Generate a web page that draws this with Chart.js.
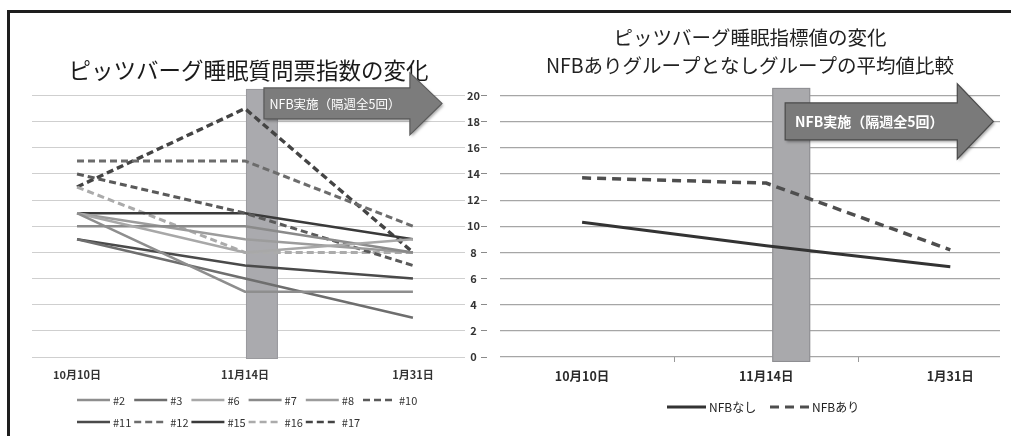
<!DOCTYPE html>
<html>
<head>
<meta charset="utf-8">
<script src="https://cdn.jsdelivr.net/npm/chart.js@4/dist/chart.umd.min.js"></script>
<style>
  html, body { margin: 0; padding: 0; background: #fff; width: 1011px; height: 436px; overflow: hidden; }
  #wrapL { position: absolute; left: 0; top: 0; width: 500px; height: 436px; }
  #wrapR { position: absolute; left: 490px; top: 0; width: 521px; height: 436px; }
  #frame { position: absolute; left: 7px; top: 10px; width: 1010px; height: 440px;
           border-top: 3px solid #1e1e1e; border-left: 3px solid #1e1e1e; pointer-events: none; }
</style>
</head>
<body>
<div id="wrapL"><canvas id="cL" width="500" height="436"></canvas></div>
<div id="wrapR"><canvas id="cR" width="521" height="436"></canvas></div>
<div id="frame"></div>
<script>
// ---------- data ----------
const categories = ['10月10日', '11月14日', '1月31日'];
const yTickValues = [0, 2, 4, 6, 8, 10, 12, 14, 16, 18, 20];
const subjectLabels = ['#2', '#3', '#6', '#7', '#8', '#10', '#11', '#12', '#15', '#16', '#17'];
const s02 = [11, 5, 5];
const s03 = [9, 6, 3];
const s06 = [11, 8, 9];
const s07 = [10, 10, 8];
const s08 = [11, 9, 8];
const s10 = [14, 11, 7];
const s11 = [9, 7, 6];
const s12 = [15, 15, 10];
const s15 = [11, 11, 9];
const s16 = [13, 8, 8];
const s17 = [13, 19, 8];
const groupLabels = ['NFBなし', 'NFBあり'];
const noNfbMeans = [10.3, 8.5, 6.9];
const nfbMeans = [13.7, 13.3, 8.2];
const leftTitle = 'ピッツバーグ睡眠質問票指数の変化';
const rightTitle = ['ピッツバーグ睡眠指標値の変化', 'NFBありグループとなしグループの平均値比較'];
const arrowText = 'NFB実施（隔週全5回）';

// ---------- styles ----------
const FONT = "'Noto Sans CJK JP', 'Noto Sans', sans-serif";
Chart.defaults.font.family = FONT;
Chart.defaults.color = '#333';

const subjectSeries = [s02, s03, s06, s07, s08, s10, s11, s12, s15, s16, s17];
const subjectColors = ['#8e8e8e', '#6e6e6e', '#a8a8a8', '#8a8a8a', '#9c9c9c', '#5a5a5a',
                       '#4a4a4a', '#6c6c6c', '#3a3a3a', '#ababab', '#444444'];
const subjectDashed = [false, false, false, false, false, true, false, true, false, true, true];

const toPoints = arr => arr.map((v, i) => ({ x: i, y: v }));

// ---------- plugins ----------
const nfbMarker = {
  id: 'nfbMarker',
  beforeDatasetsDraw(chart, args, o) {
    const { ctx, scales: { x, y } } = chart;
    const x0 = x.getPixelForValue(o.bar[0]), x1 = x.getPixelForValue(o.bar[1]);
    const yt = y.getPixelForValue(o.bar[2]), yb = y.getPixelForValue(o.bar[3]);
    ctx.save();
    ctx.fillStyle = o.barColor;
    ctx.fillRect(x0, yt, x1 - x0, yb - yt);
    ctx.strokeStyle = o.barBorder;
    ctx.lineWidth = 1;
    ctx.strokeRect(x0 + 0.5, yt + 0.5, x1 - x0 - 1, yb - yt - 1);
    ctx.restore();
  },
  afterDatasetsDraw(chart, args, o) {
    const { ctx, scales: { x, y } } = chart;
    const a = o.arrow;
    const X = v => x.getPixelForValue(v), Y = v => y.getPixelForValue(v);
    const bx = X(a.bodyStart), hx = X(a.headStart), tx = X(a.tip);
    const bt = Y(a.bodyTop), bb = Y(a.bodyBottom), ht = Y(a.headTop), hb = Y(a.headBottom);
    const ty = (bt + bb) / 2;
    ctx.save();
    ctx.shadowColor = 'rgba(0,0,0,0.35)';
    ctx.shadowBlur = 3; ctx.shadowOffsetX = 1.5; ctx.shadowOffsetY = 2;
    ctx.beginPath();
    ctx.moveTo(bx, bt); ctx.lineTo(hx, bt); ctx.lineTo(hx, ht); ctx.lineTo(tx, ty);
    ctx.lineTo(hx, hb); ctx.lineTo(hx, bb); ctx.lineTo(bx, bb); ctx.closePath();
    ctx.fillStyle = o.arrowColor; ctx.fill();
    ctx.shadowColor = 'rgba(0,0,0,0)';
    ctx.lineWidth = 1.2; ctx.strokeStyle = o.arrowBorder; ctx.stroke();
    ctx.fillStyle = '#fff';
    ctx.font = o.textFont;
    ctx.textAlign = 'center'; ctx.textBaseline = 'middle';
    ctx.fillText(o.text, X(a.textX), ty + 0.5);
    ctx.restore();
  }
};

const gridLegend = {
  id: 'gridLegend',
  afterDraw(chart, args, o) {
    const { ctx } = chart;
    ctx.save();
    chart.data.datasets.forEach((ds, i) => {
      const col = i % o.columns, row = Math.floor(i / o.columns);
      const lx = o.x + col * o.colWidth, ly = o.y + row * o.rowHeight;
      ctx.beginPath();
      ctx.strokeStyle = ds.borderColor;
      ctx.lineWidth = o.lineWidth;
      ctx.setLineDash(ds.borderDash || []);
      ctx.moveTo(lx, ly); ctx.lineTo(lx + o.lineLength, ly);
      ctx.stroke();
      ctx.setLineDash([]);
      ctx.fillStyle = o.color;
      ctx.font = o.font;
      ctx.textAlign = 'left'; ctx.textBaseline = 'middle';
      ctx.fillText(ds.label, lx + o.lineLength + o.gap, ly + 0.5);
    });
    ctx.restore();
  }
};

const setTicks = values => scale => { scale.ticks = values.map(v => ({ value: v })); };

// ---------- left chart ----------
const leftChart = new Chart(document.getElementById('cL'), {
  type: 'line',
  data: {
    datasets: subjectLabels.map((name, i) => ({
      label: name,
      data: toPoints(subjectSeries[i]),
      borderColor: subjectColors[i],
      borderWidth: subjectDashed[i] ? (name === '#17' ? 3.4 : 3) : 2.5,
      borderDash: subjectDashed[i] ? [7, 4] : [],
      pointRadius: 0,
      tension: 0,
      fill: false
    }))
  },
  options: {
    responsive: false,
    animation: false,
    layout: { padding: { left: 32, right: 11, top: 0, bottom: 39 } },
    scales: {
      x: {
        type: 'linear', min: -0.268, max: 2.31,
        afterBuildTicks: setTicks(categories.map((c, i) => i)),
        afterFit: s => { s.height = 40; },
        ticks: { callback: v => categories[v] ?? '', padding: 11, autoSkip: false, maxRotation: 0,
                 color: '#333', font: { size: 11, weight: 'bold' } },
        grid: { display: false, drawTicks: false },
        border: { display: false }
      },
      y: {
        position: 'right', min: 0, max: 20, weight: 0,
        afterBuildTicks: setTicks(yTickValues),
        afterFit: s => { s.width = 16; },
        ticks: { padding: 2, crossAlign: 'center', color: '#333', font: { size: 11, weight: 'bold' } },
        grid: { color: '#cfcfcf', lineWidth: 1, drawTicks: false },
        border: { display: false }
      },
      y2: {
        position: 'right', min: 0, max: 20, weight: 1,
        afterBuildTicks: setTicks(yTickValues),
        afterFit: s => { s.width = 8; },
        ticks: { display: false },
        grid: { drawOnChartArea: false, drawTicks: true, tickLength: 6, tickColor: '#8a8a8a', tickWidth: 1 },
        border: { display: false }
      }
    },
    plugins: {
      legend: { display: false },
      tooltip: { enabled: false },
      title: {
        display: true, text: leftTitle, fullSize: false, color: '#1a1a1a',
        font: { size: 22.5, weight: 'normal', lineHeight: 1.2 },
        padding: { top: 56.5, bottom: 12.3 }
      },
      nfbMarker: {
        bar: [1.006, 1.196, 20.5, -0.15],
        barColor: '#aaaaae', barBorder: '#9a9a9e',
        arrow: { bodyStart: 1.113, headStart: 1.982, tip: 2.173,
                 bodyTop: 20.58, bodyBottom: 18.21, headTop: 21.73, headBottom: 16.99, textX: 1.536 },
        arrowColor: '#7c7c7c', arrowBorder: '#5a5a5a',
        text: arrowText, textFont: "12.5px " + FONT
      },
      gridLegend: {
        x: 77, y: 400, colWidth: 57.2, rowHeight: 22, columns: 6, gap: 3,
        lineLength: 33, lineWidth: 2.7, color: '#333', font: "11px " + FONT
      }
    }
  },
  plugins: [nfbMarker, gridLegend]
});

// ---------- right chart ----------
const rightChart = new Chart(document.getElementById('cR'), {
  type: 'line',
  data: {
    datasets: [
      { label: groupLabels[0], data: toPoints(noNfbMeans), borderColor: '#333333', borderWidth: 3,
        borderDash: [], pointRadius: 0, tension: 0, fill: false },
      { label: groupLabels[1], data: toPoints(nfbMeans), borderColor: '#4e4e4e', borderWidth: 3.5,
        borderDash: [9, 6], pointRadius: 0, tension: 0, fill: false }
    ]
  },
  options: {
    responsive: false,
    animation: false,
    layout: { padding: { left: 10, right: 11, top: 0, bottom: 53 } },
    scales: {
      x: {
        type: 'linear', min: -0.446, max: 2.27,
        afterBuildTicks: setTicks([0, 0.5, 1, 1.5, 2]),
        afterFit: s => { s.height = 26; },
        ticks: { callback: v => Number.isInteger(v) ? categories[v] : '', padding: 7, autoSkip: false,
                 maxRotation: 0, color: '#2a2a2a', font: { size: 12.5, weight: 'bold' } },
        grid: { drawOnChartArea: false, drawTicks: true, tickLength: 5,
                tickColor: c => Number.isInteger(c.tick.value) ? 'rgba(0,0,0,0)' : '#999' },
        border: { display: false }
      },
      y: {
        position: 'left', min: 0, max: 20,
        afterBuildTicks: setTicks(yTickValues),
        afterFit: s => { s.width = 0; },
        ticks: { display: false },
        grid: { color: '#a6a6a6', lineWidth: 1.2, drawTicks: false },
        border: { display: false }
      }
    },
    plugins: {
      tooltip: { enabled: false },
      legend: { display: false },
      title: {
        display: true, text: rightTitle, fullSize: false, color: '#222',
        font: { size: 19.5, weight: 'normal', lineHeight: 1.436 },
        padding: { top: 24, bottom: 15.5 }
      },
      nfbMarker: {
        bar: [1.033, 1.239, 20.58, -0.38],
        barColor: '#a9a9ac', barBorder: '#8e8e92',
        arrow: { bodyStart: 1.103, headStart: 2.038, tip: 2.234,
                 bodyTop: 19.43, bodyBottom: 16.6, headTop: 20.89, headBottom: 15.15, textX: 1.56 },
        arrowColor: '#7a7a7a', arrowBorder: '#4a4a4a',
        text: arrowText, textFont: "bold 14px " + FONT
      },
      gridLegend: {
        x: 177, y: 407, colWidth: 103, rowHeight: 22, columns: 2, gap: 3,
        lineLength: 39, lineWidth: 3, color: '#222', font: "12px " + FONT
      }
    }
  },
  plugins: [nfbMarker, gridLegend]
});

// ---------- align plot areas to the reference frame ----------
function alignArea(chart, top, bottom) {
  const ca = chart.chartArea;
  chart.options.plugins.title.padding.bottom += top - ca.top;
  chart.options.layout.padding.bottom += ca.bottom - bottom;
  chart.update('none');
}
alignArea(leftChart, 95.5, 357);
alignArea(rightChart, 95.5, 357);
</script>
</body>
</html>
